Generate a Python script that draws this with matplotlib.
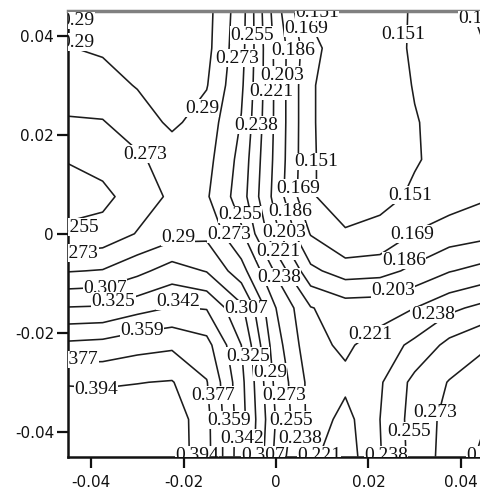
import numpy as np
import matplotlib
matplotlib.use("Agg")
import matplotlib.pyplot as plt

plt.rcParams['axes.unicode_minus'] = False

# grid coordinates
x_vals = [-0.045, -0.0375, -0.03, -0.0225, -0.015, -0.0075, 0.0,
          0.0075, 0.015, 0.0225, 0.03, 0.0375, 0.045]
y_vals_top_down = [0.045, 0.0375, 0.03, 0.0225, 0.015, 0.0075, 0.0,
                   -0.0075, -0.015, -0.0225, -0.03, -0.0375, -0.045]

# field values, one row per y (top to bottom)
row_00 = [0.2915, 0.293, 0.297, 0.298, 0.296, 0.263, 0.193, 0.148, 0.140, 0.143, 0.153, 0.161, 0.173]
row_01 = [0.2895, 0.292, 0.296, 0.297, 0.295, 0.261, 0.198, 0.157, 0.139, 0.141, 0.154, 0.160, 0.1685]
row_02 = [0.283, 0.284, 0.291, 0.296, 0.291, 0.258, 0.199, 0.153, 0.139, 0.141, 0.152, 0.158, 0.165]
row_03 = [0.271, 0.272, 0.282, 0.293, 0.283, 0.254, 0.199, 0.153, 0.139, 0.141, 0.150, 0.157, 0.163]
row_04 = [0.256, 0.262, 0.270, 0.281, 0.279, 0.249, 0.198, 0.153, 0.141, 0.141, 0.150, 0.155, 0.162]
row_05 = [0.247, 0.250, 0.264, 0.276, 0.275, 0.246, 0.196, 0.152, 0.146, 0.147, 0.153, 0.161, 0.167]
row_06 = [0.259, 0.262, 0.274, 0.283, 0.286, 0.258, 0.207, 0.168, 0.152, 0.155, 0.170, 0.177, 0.181]
row_07 = [0.289, 0.291, 0.302, 0.315, 0.306, 0.280, 0.235, 0.190, 0.178, 0.180, 0.190, 0.202, 0.209]
row_08 = [0.326, 0.327, 0.336, 0.343, 0.341, 0.311, 0.255, 0.222, 0.212, 0.213, 0.221, 0.234, 0.243]
row_09 = [0.363, 0.365, 0.371, 0.374, 0.365, 0.325, 0.262, 0.226, 0.218, 0.229, 0.242, 0.260, 0.271]
row_10 = [0.393, 0.392, 0.3935, 0.395, 0.378, 0.330, 0.268, 0.232, 0.225, 0.236, 0.260, 0.274, 0.282]
row_11 = [0.403, 0.405, 0.405, 0.405, 0.382, 0.332, 0.272, 0.232, 0.215, 0.238, 0.262, 0.279, 0.289]
row_12 = [0.410, 0.412, 0.410, 0.405, 0.383, 0.331, 0.268, 0.224, 0.212, 0.237, 0.261, 0.281, 0.293]

levels = [0.151, 0.169, 0.186, 0.203, 0.221, 0.238, 0.255, 0.273,
          0.29, 0.307, 0.325, 0.342, 0.359, 0.377, 0.394]

x_ticks = [-0.04, -0.02, 0, 0.02, 0.04]
x_tick_labels = ["-0.04", "-0.02", "0", "0.02", "0.04"]
y_ticks = [-0.04, -0.02, 0, 0.02, 0.04]
y_tick_labels = ["-0.04", "-0.02", "0", "0.02", "0.04"]

# contour label placements (level, x, y)
label_spots = [
    (0.29, -0.0430, 0.0431), (0.29, -0.0430, 0.0387), (0.29, -0.0160, 0.0254),
    (0.273, -0.0283, 0.0161), (0.255, -0.0430, 0.0013), (0.273, -0.0432, -0.0039),
    (0.307, -0.0370, -0.0110), (0.325, -0.0352, -0.0136), (0.342, -0.0212, -0.0136),
    (0.359, -0.0290, -0.0195), (0.377, -0.0432, -0.0254), (0.394, -0.0389, -0.0314),
    (0.377, -0.0136, -0.0326), (0.359, -0.0102, -0.0377), (0.342, -0.0074, -0.0413),
    (0.394, -0.0171, -0.0447), (0.307, -0.0028, -0.0447), (0.221, 0.0093, -0.0447),
    (0.238, 0.0238, -0.0447), (0.29, 0.0448, -0.0447), (0.273, 0.0017, -0.0326),
    (0.255, 0.0032, -0.0377), (0.238, 0.0052, -0.0413), (0.29, -0.0013, -0.0280),
    (0.325, -0.0061, -0.0247), (0.307, -0.0065, -0.0151), (0.238, 0.0006, -0.0088),
    (0.221, 0.0006, -0.0035), (0.29, -0.0212, -0.0007), (0.273, -0.0102, -0.0001),
    (0.203, 0.0017, 0.0003), (0.255, -0.0078, 0.0039), (0.186, 0.0030, 0.0045),
    (0.169, 0.0048, 0.0092), (0.151, 0.0086, 0.0146), (0.238, -0.0043, 0.0219),
    (0.221, -0.0011, 0.0288), (0.203, 0.0013, 0.0320), (0.273, -0.0084, 0.0355),
    (0.186, 0.0037, 0.0371), (0.255, -0.0052, 0.0401), (0.169, 0.0065, 0.0415),
    (0.151, 0.0089, 0.0447), (0.151, 0.0275, 0.0403), (0.169, 0.0441, 0.0435),
    (0.151, 0.0290, 0.0078), (0.169, 0.0294, -0.0001), (0.186, 0.0277, -0.0054),
    (0.203, 0.0253, -0.0114), (0.238, 0.0339, -0.0163), (0.221, 0.0205, -0.0203),
    (0.273, 0.0344, -0.0361), (0.255, 0.0288, -0.0399),
]

rows = [row_00, row_01, row_02, row_03, row_04, row_05, row_06,
        row_07, row_08, row_09, row_10, row_11, row_12]
Z = np.array(rows[::-1])
X = np.array(x_vals)
Y = np.array(y_vals_top_down[::-1])

W, H = 481, 497
fig = plt.figure(figsize=(W / 100, H / 100), dpi=100)
ax = fig.add_axes([68 / W, 40.5 / H, 416 / W, 445.5 / H])

ax.contour(X, Y, Z, levels=levels, colors='#1c1c1c', linewidths=1.15)

for lev, lx, ly in label_spots:
    ax.text(lx, ly, f"{lev:g}", ha='center', va='center',
            family='Liberation Serif', fontsize=14, color='#111111',
            zorder=5, clip_on=True,
            bbox=dict(boxstyle='square,pad=0.02', fc='white', ec='none'))

ax.set_xlim(-0.045, 0.045)
ax.set_ylim(-0.045, 0.045)
ax.set_xticks(x_ticks)
ax.set_xticklabels(x_tick_labels)
ax.set_yticks(y_ticks)
ax.set_yticklabels(y_tick_labels)
ax.tick_params(axis='both', direction='out', length=8, width=1.6,
               colors='#111111', labelsize=11)
ax.tick_params(axis='x', pad=5)
ax.tick_params(axis='y', pad=2)
for lab in ax.get_xticklabels() + ax.get_yticklabels():
    lab.set_family('DejaVu Sans')

ax.spines['right'].set_visible(False)
ax.spines['top'].set_color('#808080')
ax.spines['top'].set_linewidth(2.5)
ax.spines['left'].set_color('#111111')
ax.spines['left'].set_linewidth(1.8)
ax.spines['bottom'].set_color('#111111')
ax.spines['bottom'].set_linewidth(1.8)

fig.savefig("out.png", dpi=100)
